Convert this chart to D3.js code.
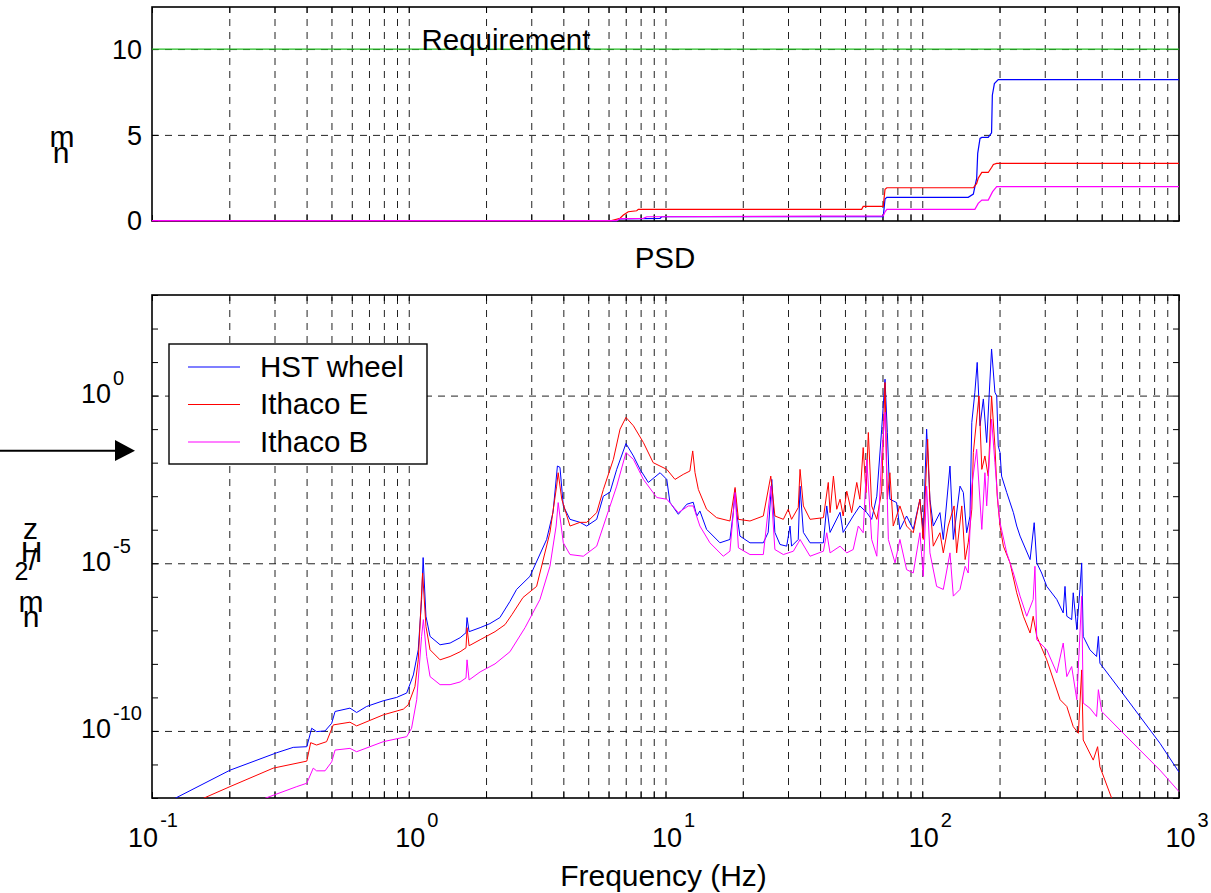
<!DOCTYPE html>
<html>
<head>
<meta charset="utf-8">
<script src="https://cdn.jsdelivr.net/npm/d3@7"></script>
<style>
  body { margin: 0; background: #fff; }
  svg text { font-family: "Liberation Sans", Arial, sans-serif; fill: #000; }
</style>
</head>
<body>
<script>
// series + tick data (frequencies and PSD stored as log10 values)
const seriesNames = ["HST wheel", "Ithaco E", "Ithaco B"];
const xTickExps = [-1, 0, 1, 2, 3];
const psdTickExps = [-10, -5, 0];
const rmsTicks = [0, 5, 10];
const requirement = 10;

// PSD: [log10 Hz, log10 nm^2/Hz]
const hstPsd = [[-0.910,-12.01],[-0.696,-11.17],[-0.514,-10.65],[-0.450,-10.49],[-0.397,-10.47],[-0.378,-9.92],[-0.359,-10.02],[-0.326,-10.00],[-0.300,-9.77],[-0.287,-9.42],[-0.229,-9.32],[-0.203,-9.45],[-0.164,-9.27],[-0.099,-9.10],[-0.047,-9.00],[-0.008,-8.87],[0.018,-8.33],[0.037,-7.58],[0.050,-6.08],[0.056,-4.83],[0.067,-6.58],[0.083,-7.18],[0.122,-7.43],[0.161,-7.38],[0.200,-7.22],[0.223,-7.07],[0.227,-6.62],[0.235,-7.04],[0.278,-6.92],[0.316,-6.80],[0.355,-6.62],[0.394,-6.14],[0.420,-5.78],[0.472,-5.39],[0.537,-4.29],[0.562,-3.48],[0.579,-2.10],[0.589,-2.14],[0.602,-3.29],[0.628,-3.69],[0.667,-3.78],[0.693,-3.89],[0.732,-3.69],[0.758,-3.00],[0.784,-2.88],[0.810,-2.20],[0.846,-1.43],[0.875,-1.80],[0.901,-2.20],[0.933,-2.59],[0.979,-2.30],[1.005,-2.50],[1.017,-3.18],[1.050,-3.54],[1.083,-3.24],[1.108,-3.18],[1.122,-3.59],[1.134,-3.44],[1.160,-3.99],[1.212,-4.39],[1.251,-4.29],[1.264,-3.49],[1.271,-2.80],[1.277,-3.48],[1.290,-4.19],[1.329,-4.39],[1.381,-4.39],[1.400,-4.08],[1.414,-2.50],[1.426,-4.08],[1.446,-4.44],[1.472,-4.49],[1.485,-3.89],[1.491,-4.49],[1.517,-4.29],[1.524,-2.70],[1.537,-4.08],[1.563,-4.39],[1.615,-4.39],[1.628,-3.29],[1.641,-4.08],[1.680,-3.48],[1.692,-4.08],[1.731,-3.59],[1.757,-3.29],[1.784,-3.49],[1.803,-3.69],[1.823,-3.00],[1.842,-1.00],[1.855,0.49],[1.864,-1.10],[1.874,-3.09],[1.900,-3.19],[1.913,-3.99],[1.939,-3.59],[1.965,-3.99],[1.991,-3.09],[2.004,-4.09],[2.017,-1.00],[2.030,-3.09],[2.043,-3.89],[2.069,-3.49],[2.082,-4.29],[2.108,-2.10],[2.121,-4.29],[2.147,-2.70],[2.160,-2.89],[2.173,-4.09],[2.186,-3.59],[2.193,-0.80],[2.205,0.10],[2.214,0.99],[2.225,-0.90],[2.238,-0.10],[2.251,-1.40],[2.270,1.39],[2.283,0.10],[2.290,-0.01],[2.296,-1.50],[2.303,-1.70],[2.309,-2.40],[2.329,-2.89],[2.355,-3.49],[2.368,-3.89],[2.381,-4.19],[2.420,-4.89],[2.436,-3.79],[2.446,-4.99],[2.465,-5.29],[2.485,-5.69],[2.524,-6.08],[2.549,-6.48],[2.556,-5.69],[2.563,-6.58],[2.582,-6.68],[2.588,-5.88],[2.602,-6.98],[2.614,-5.78],[2.621,-4.99],[2.627,-7.18],[2.653,-7.58],[2.679,-7.78],[2.686,-7.18],[2.692,-7.98],[2.770,-8.77],[2.848,-9.57],[2.926,-10.37],[3.000,-11.23]];

const ithacoEPsd = [[-0.800,-12.01],[-0.696,-11.66],[-0.528,-11.11],[-0.397,-10.90],[-0.382,-10.35],[-0.359,-10.42],[-0.320,-10.32],[-0.294,-9.82],[-0.229,-9.74],[-0.203,-9.85],[-0.099,-9.52],[-0.021,-9.35],[-0.002,-9.22],[0.024,-8.68],[0.037,-7.88],[0.054,-5.29],[0.067,-6.88],[0.083,-7.58],[0.122,-7.88],[0.161,-7.78],[0.200,-7.64],[0.223,-7.52],[0.227,-6.92],[0.235,-7.46],[0.278,-7.28],[0.336,-7.04],[0.375,-6.83],[0.402,-6.53],[0.445,-6.02],[0.498,-5.69],[0.550,-4.08],[0.576,-2.70],[0.582,-2.30],[0.596,-3.09],[0.628,-3.89],[0.667,-3.78],[0.693,-3.78],[0.732,-3.49],[0.758,-2.80],[0.797,-1.90],[0.823,-1.00],[0.846,-0.65],[0.875,-0.90],[0.914,-1.40],[0.952,-2.00],[1.005,-2.20],[1.037,-2.50],[1.069,-2.35],[1.095,-2.25],[1.106,-1.65],[1.115,-2.30],[1.128,-2.80],[1.160,-3.39],[1.199,-3.64],[1.251,-3.74],[1.271,-2.74],[1.284,-3.69],[1.329,-3.74],[1.381,-3.59],[1.410,-2.40],[1.426,-3.59],[1.459,-3.69],[1.478,-3.39],[1.491,-3.69],[1.517,-3.34],[1.524,-2.20],[1.537,-3.29],[1.563,-3.69],[1.615,-3.64],[1.634,-2.59],[1.641,-3.49],[1.654,-2.40],[1.667,-3.39],[1.680,-3.09],[1.692,-3.59],[1.706,-2.85],[1.725,-3.49],[1.745,-2.59],[1.757,-3.09],[1.770,-1.55],[1.781,-2.89],[1.790,-1.10],[1.803,-3.29],[1.823,-3.69],[1.842,-2.85],[1.855,0.39],[1.864,-3.09],[1.874,-2.30],[1.887,-3.89],[1.913,-3.29],[1.939,-3.89],[1.965,-4.09],[1.991,-3.09],[2.004,-4.29],[2.021,-1.30],[2.030,-3.19],[2.043,-4.49],[2.069,-4.09],[2.082,-4.69],[2.101,-3.89],[2.124,-3.29],[2.134,-4.69],[2.154,-3.29],[2.167,-4.89],[2.179,-4.39],[2.193,-3.39],[2.199,-1.70],[2.221,-0.01],[2.232,-2.20],[2.244,-1.80],[2.257,-2.40],[2.270,-0.01],[2.283,-1.50],[2.292,-3.00],[2.303,-3.89],[2.316,-4.49],[2.342,-4.99],[2.368,-5.88],[2.394,-6.58],[2.420,-7.08],[2.432,-6.58],[2.446,-7.18],[2.485,-7.88],[2.537,-9.07],[2.563,-9.27],[2.588,-9.87],[2.608,-10.07],[2.621,-8.18],[2.627,-10.27],[2.666,-10.87],[2.683,-10.47],[2.692,-11.07],[2.738,-12.01],[2.809,-12.60]];

const ithacoBPsd = [[-0.560,-12.01],[-0.436,-11.66],[-0.397,-11.56],[-0.372,-11.11],[-0.359,-11.19],[-0.326,-11.19],[-0.300,-10.92],[-0.287,-10.57],[-0.229,-10.52],[-0.203,-10.62],[-0.099,-10.32],[-0.008,-10.17],[0.011,-9.92],[0.031,-9.07],[0.050,-7.18],[0.057,-6.68],[0.070,-7.78],[0.083,-8.38],[0.122,-8.62],[0.161,-8.62],[0.200,-8.54],[0.223,-8.42],[0.227,-7.88],[0.235,-8.48],[0.278,-8.24],[0.336,-8.00],[0.394,-7.64],[0.453,-6.92],[0.511,-6.08],[0.550,-5.09],[0.574,-3.89],[0.582,-3.19],[0.602,-4.39],[0.628,-4.74],[0.680,-4.79],[0.732,-4.49],[0.771,-3.59],[0.810,-2.70],[0.846,-1.70],[0.875,-1.90],[0.914,-2.50],[0.966,-3.04],[1.005,-3.09],[1.050,-3.49],[1.089,-3.29],[1.108,-3.29],[1.134,-3.89],[1.173,-4.39],[1.225,-4.79],[1.251,-4.64],[1.271,-2.89],[1.284,-4.54],[1.329,-4.74],[1.381,-4.74],[1.410,-2.70],[1.426,-4.59],[1.459,-4.74],[1.498,-4.64],[1.517,-4.39],[1.524,-4.29],[1.563,-4.79],[1.615,-4.64],[1.628,-4.09],[1.641,-4.69],[1.680,-4.49],[1.706,-4.69],[1.731,-4.59],[1.751,-3.89],[1.770,-4.09],[1.784,-1.90],[1.803,-4.29],[1.823,-4.79],[1.842,-1.80],[1.855,-0.50],[1.868,-4.29],[1.894,-4.99],[1.913,-4.29],[1.939,-5.19],[1.965,-5.29],[1.991,-4.09],[2.004,-5.39],[2.017,-2.70],[2.030,-4.69],[2.056,-5.69],[2.082,-5.78],[2.108,-4.69],[2.121,-5.98],[2.147,-5.78],[2.167,-5.09],[2.179,-5.29],[2.193,-2.70],[2.212,-1.60],[2.232,-3.99],[2.244,-2.30],[2.251,-3.29],[2.270,-0.70],[2.283,-2.00],[2.296,-3.29],[2.303,-3.79],[2.329,-4.69],[2.355,-5.29],[2.381,-5.98],[2.407,-6.58],[2.432,-6.08],[2.439,-5.09],[2.446,-7.28],[2.485,-7.58],[2.524,-8.27],[2.549,-7.38],[2.563,-8.38],[2.582,-8.08],[2.602,-9.07],[2.621,-5.98],[2.627,-9.17],[2.653,-9.32],[2.679,-9.57],[2.686,-8.77],[2.699,-9.42],[2.770,-9.97],[2.848,-10.57],[2.926,-11.17],[3.000,-11.81]];

// cumulative RMS: [log10 Hz, nm]
const hstRms = [[-1,0],[0.810,0],[0.823,0.10],[0.979,0.14],[0.985,0.23],[1.848,0.23],[1.855,1.26],[1.862,1.36],[2.179,1.36],[2.199,1.55],[2.205,1.98],[2.212,2.47],[2.216,3.92],[2.225,4.79],[2.232,4.85],[2.257,4.85],[2.270,5.12],[2.273,7.31],[2.281,7.99],[2.296,8.22],[3,8.22]];
const ithacoERms = [[-1,0],[0.790,0],[0.823,0.14],[0.836,0.33],[0.855,0.52],[0.888,0.58],[0.894,0.66],[1.764,0.66],[1.770,0.83],[1.848,0.83],[1.855,1.83],[1.862,1.92],[2.199,1.92],[2.212,2.17],[2.218,2.47],[2.232,2.81],[2.257,2.81],[2.270,3.10],[2.277,3.28],[2.290,3.34],[3,3.34]];
const ithacoBRms = [[-1,0],[0.810,0],[0.823,0.12],[0.914,0.14],[0.927,0.23],[1.848,0.28],[1.855,0.52],[1.862,0.66],[2.205,0.66],[2.218,1.01],[2.232,1.20],[2.257,1.20],[2.274,1.69],[2.290,1.98],[3,1.98]];

const colors = ["#0000ff", "#ff0000", "#ff00ff"];

const left = 152, right = 1179;

const svg = d3.select("body").append("svg")
    .attr("width", 1211)
    .attr("height", 893);

// scales
const x = d3.scaleLog().domain([0.1, 1000]).range([left, right]);
const yTop = d3.scaleLinear().domain([0, 12.45]).range([220.7, 7]);
const yBot = d3.scaleLog().domain([1e-12, 1e3]).range([798, 295]);

// every log tick 0.1, 0.2 ... 1000
let logTicks = [];
for (let e = -1; e < 3; e++) {
    for (let m = 1; m < 10; m++) logTicks.push(m * Math.pow(10, e));
}
logTicks.push(1000);
const decades = d3.range(-12, 4).map(e => Math.pow(10, e));

function dashGrid(g) {
    g.select(".domain").remove();
    g.selectAll("line").attr("stroke", "#222").attr("stroke-dasharray", "7,6");
}
function plainTicks(g) {
    g.select(".domain").remove();
    g.selectAll("line").attr("stroke", "#000");
}

function drawPanel(y, y0, y1, hGrid, yTickVals) {
    const ht = y1 - y0;
    // vertical grid
    svg.append("g")
        .attr("transform", "translate(0," + y1 + ")")
        .call(d3.axisBottom(x).tickValues(logTicks.slice(1, -1)).tickSize(-ht).tickFormat(""))
        .call(dashGrid);
    // horizontal grid
    svg.append("g")
        .attr("transform", "translate(" + left + ",0)")
        .call(d3.axisLeft(y).tickValues(hGrid).tickSize(-(right - left)).tickFormat(""))
        .call(dashGrid);
    // inner ticks
    svg.append("g").attr("transform", "translate(0," + y1 + ")")
        .call(d3.axisBottom(x).tickValues(logTicks).tickSize(-6).tickFormat("")).call(plainTicks);
    svg.append("g").attr("transform", "translate(0," + y0 + ")")
        .call(d3.axisTop(x).tickValues(logTicks).tickSize(-6).tickFormat("")).call(plainTicks);
    svg.append("g").attr("transform", "translate(" + left + ",0)")
        .call(d3.axisLeft(y).tickValues(yTickVals).tickSize(-6).tickFormat("")).call(plainTicks);
    svg.append("g").attr("transform", "translate(" + right + ",0)")
        .call(d3.axisRight(y).tickValues(yTickVals).tickSize(-6).tickFormat("")).call(plainTicks);
    // box
    svg.append("rect")
        .attr("x", left).attr("y", y0)
        .attr("width", right - left).attr("height", ht)
        .attr("fill", "none").attr("stroke", "#000").attr("stroke-width", 1.6);
}

drawPanel(yTop, 7, 221, [5, 10], rmsTicks);
drawPanel(yBot, 295, 798, psdTickExps.map(e => Math.pow(10, e)), decades);

// clip paths
const defs = svg.append("defs");
defs.append("clipPath").attr("id", "clipTop").append("rect")
    .attr("x", left).attr("y", 7).attr("width", right - left).attr("height", 216);
defs.append("clipPath").attr("id", "clipBot").append("rect")
    .attr("x", left).attr("y", 295).attr("width", right - left).attr("height", 503);

// requirement line
svg.append("line")
    .attr("x1", left).attr("x2", right)
    .attr("y1", yTop(requirement)).attr("y2", yTop(requirement))
    .attr("stroke", "#22bb22").attr("stroke-width", 1.2);

svg.append("text")
    .attr("x", 421.5).attr("y", yTop(requirement) + 0.5)
    .attr("font-size", 29.5)
    .text("Requirement");

// cumulative lines
const lineTop = d3.line()
    .x(d => x(Math.pow(10, d[0])))
    .y(d => yTop(d[1]));
[hstRms, ithacoERms, ithacoBRms].forEach((s, i) => {
    svg.append("path")
        .datum(s)
        .attr("clip-path", "url(#clipTop)")
        .attr("d", lineTop)
        .attr("fill", "none")
        .attr("stroke", colors[i])
        .attr("stroke-width", 1.2);
});

// PSD lines
const lineBot = d3.line()
    .x(d => x(Math.pow(10, d[0])))
    .y(d => yBot(Math.pow(10, d[1])));
[hstPsd, ithacoEPsd, ithacoBPsd].forEach((s, i) => {
    svg.append("path")
        .datum(s)
        .attr("clip-path", "url(#clipBot)")
        .attr("d", lineBot)
        .attr("fill", "none")
        .attr("stroke", colors[i])
        .attr("stroke-width", 1);
});

// top y tick labels
svg.selectAll(".rmsLabel")
    .data(rmsTicks)
    .enter()
    .append("text")
    .attr("x", 142)
    .attr("y", d => yTop(d) + 9.7)
    .attr("text-anchor", "end")
    .attr("font-size", 27)
    .text(d => d);

// bottom y tick labels, 10 with superscript
psdTickExps.forEach(e => {
    const t = svg.append("text")
        .attr("x", 81)
        .attr("y", yBot(Math.pow(10, e)) + 7.5)
        .attr("font-size", 27);
    t.append("tspan").text("10");
    t.append("tspan").attr("dx", 2).attr("dy", -18).attr("font-size", 20).text(e);
});

// x tick labels
xTickExps.forEach(e => {
    const t = svg.append("text")
        .attr("x", x(Math.pow(10, e)) + (e < 0 ? 1 : 8))
        .attr("y", 846.5)
        .attr("text-anchor", "middle")
        .attr("font-size", 27);
    t.append("tspan").text("10");
    t.append("tspan").attr("dx", 2).attr("dy", -20).attr("font-size", 20).text(e);
});

// titles
svg.append("text")
    .attr("x", 663.5).attr("y", 886)
    .attr("text-anchor", "middle")
    .attr("font-size", 30)
    .text("Frequency (Hz)");

svg.append("text")
    .attr("x", 665).attr("y", 268)
    .attr("text-anchor", "middle")
    .attr("font-size", 29.5)
    .text("PSD");

// y labels drawn glyph by glyph (upright characters stacked)
const topLabel = [["m", 62, 147], ["n", 61, 163]];
const botLabel = [["z", 30.5, 539], ["H", 31.5, 562], ["/", 33, 570], ["2", 21.5, 580], ["m", 31, 612], ["n", 31, 627]];
topLabel.concat(botLabel).forEach(c => {
    svg.append("text")
        .attr("x", c[1]).attr("y", c[2])
        .attr("text-anchor", "middle")
        .attr("font-size", c[0] == "2" ? 25 : 30)
        .text(c[0]);
});

// legend
const legend = svg.append("g");
legend.append("rect")
    .attr("x", 169).attr("y", 344)
    .attr("width", 258).attr("height", 120)
    .attr("fill", "#fff").attr("stroke", "#000").attr("stroke-width", 1.4);
seriesNames.forEach((name, i) => {
    const cy = 367 + i * 37.5;
    legend.append("line")
        .attr("x1", 188).attr("x2", 240)
        .attr("y1", cy).attr("y2", cy)
        .attr("stroke", colors[i]).attr("stroke-width", 1.2);
    legend.append("text")
        .attr("x", 260).attr("y", cy + 9.5)
        .attr("font-size", 29.5)
        .text(name);
});

// arrow on the left
svg.append("line")
    .attr("x1", 0).attr("x2", 118)
    .attr("y1", 450.7).attr("y2", 450.7)
    .attr("stroke", "#000").attr("stroke-width", 2);
svg.append("path")
    .attr("d", "M115,440 L135,450.7 L115,461 Z")
    .attr("fill", "#000");
</script>
</body>
</html>
